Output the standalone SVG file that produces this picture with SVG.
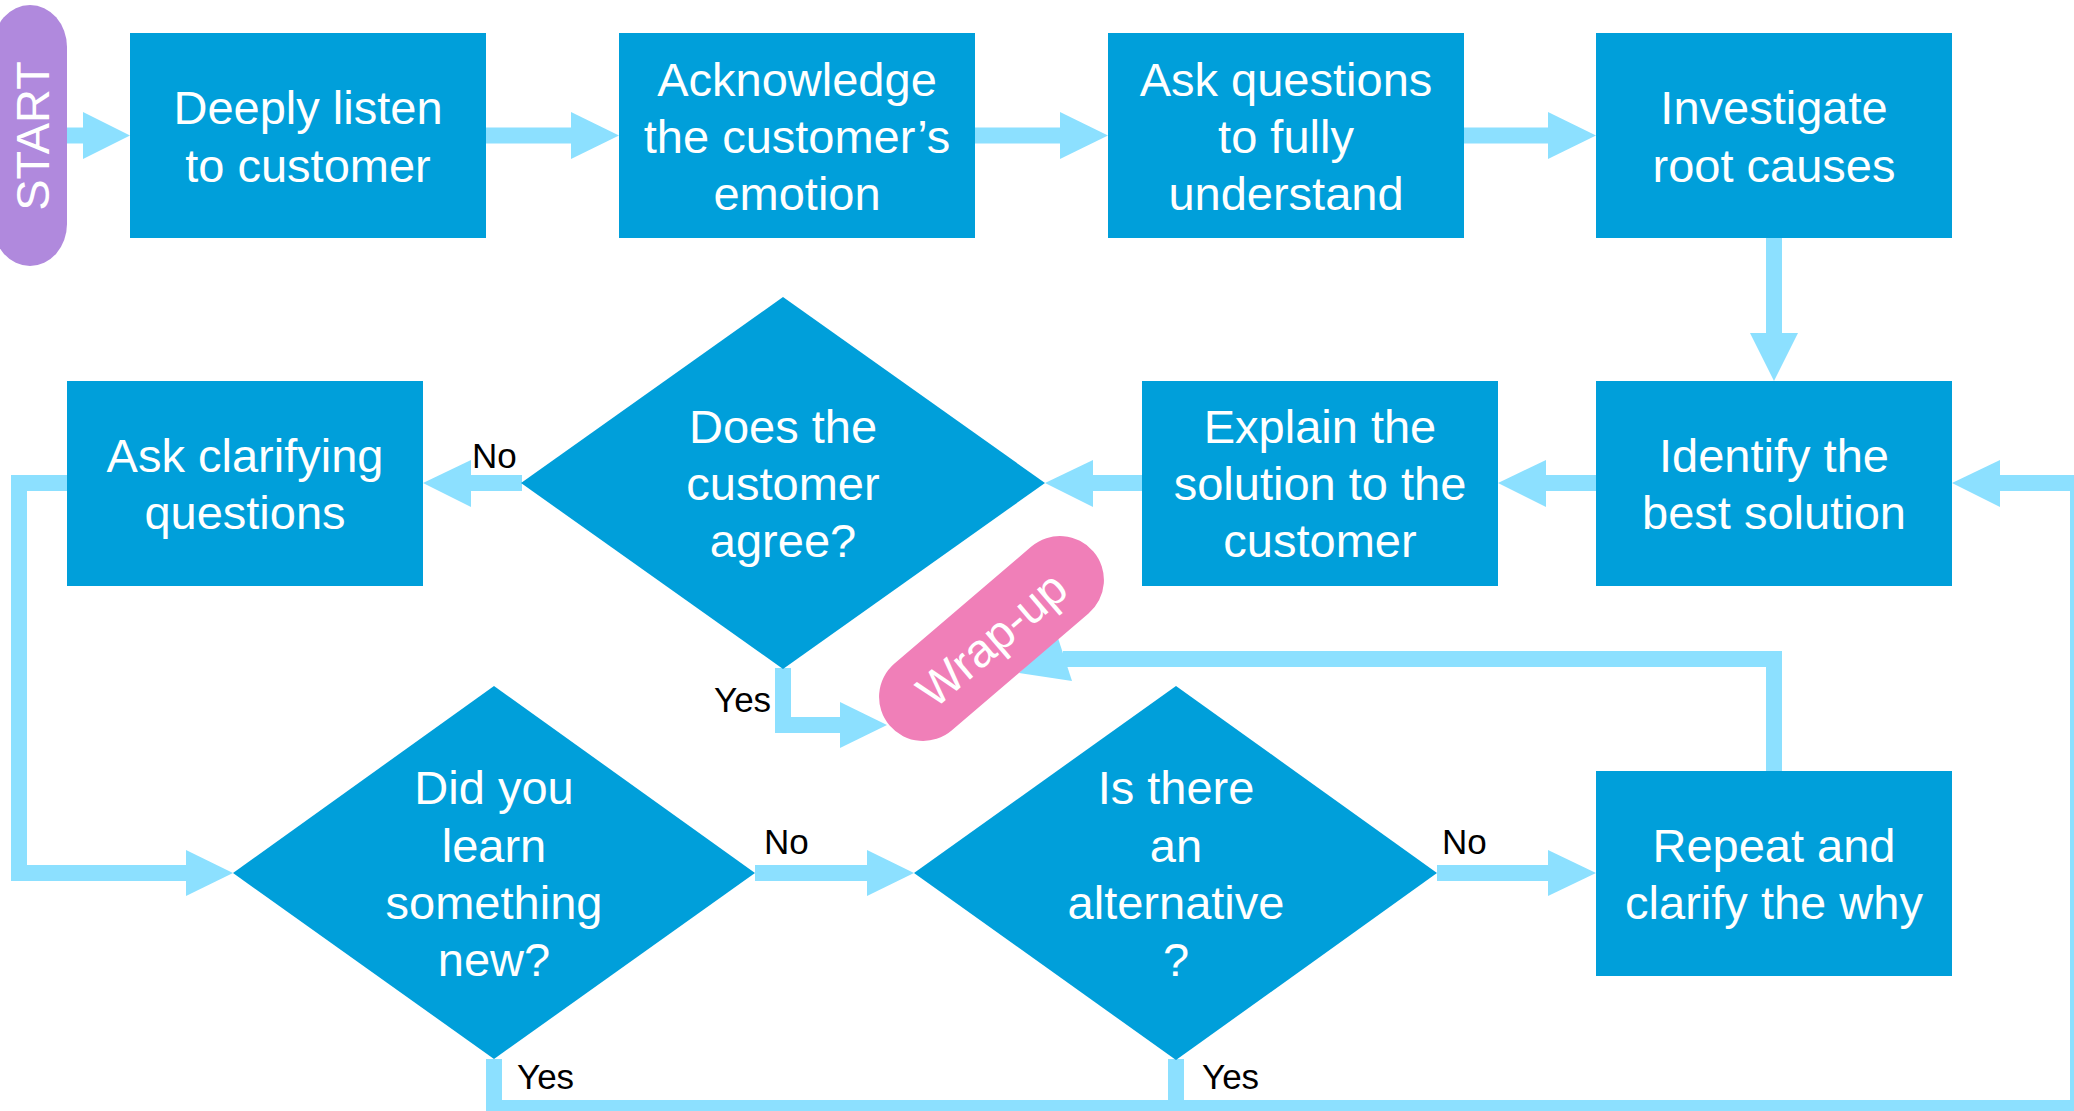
<svg xmlns="http://www.w3.org/2000/svg" width="2074" height="1111" viewBox="0 0 2074 1111">
<style>
.box{fill:#009FDA}
.t{font-family:"Liberation Sans",Arial,sans-serif;font-size:47px;fill:#FFFFFF;text-anchor:middle}
.lbl{font-family:"Liberation Sans",Arial,sans-serif;font-size:35px;fill:#000000}
.line{fill:none;stroke:#8CE0FF;stroke-width:16;stroke-linejoin:miter;stroke-linecap:butt}
.head{fill:#8CE0FF}
</style>
<rect width="2074" height="1111" fill="#FFFFFF"/>
<g id="connectors">
  <!-- START -> box1 -->
  <path class="line" d="M66 135.5H84"/>
  <polygon class="head" points="83,112 130,135.5 83,159"/>
  <!-- row 1 -->
  <path class="line" d="M486 135.5H572"/>
  <polygon class="head" points="571,112 619,135.5 571,159"/>
  <path class="line" d="M975 135.5H1061"/>
  <polygon class="head" points="1060,112 1108,135.5 1060,159"/>
  <path class="line" d="M1464 135.5H1549"/>
  <polygon class="head" points="1548,112 1596,135.5 1548,159"/>
  <!-- down -->
  <path class="line" d="M1774 238V334"/>
  <polygon class="head" points="1750,333 1774,381 1798,333"/>
  <!-- row 2 leftward -->
  <path class="line" d="M1596 483H1545"/>
  <polygon class="head" points="1546,460 1498,483 1546,507"/>
  <path class="line" d="M1142 483H1092"/>
  <polygon class="head" points="1093,460 1045,483 1093,507"/>
  <path class="line" d="M522 483H470"/>
  <polygon class="head" points="471,460 423,483 471,507"/>
  <!-- left loop -->
  <path class="line" d="M67 483H19V873H187"/>
  <polygon class="head" points="186,850 233,873 186,896"/>
  <!-- yes to wrap-up -->
  <path class="line" d="M783 668V725H841"/>
  <polygon class="head" points="840,702 887,725 840,748"/>
  <!-- row 3 -->
  <path class="line" d="M755 873H868"/>
  <polygon class="head" points="867,850 914,873 867,896"/>
  <path class="line" d="M1437 873H1549"/>
  <polygon class="head" points="1548,850 1596,873 1548,896"/>
  <!-- repeat -> wrap-up -->
  <path class="line" d="M1774 771V659H1063"/>
  <polygon class="head" points="1057,635 1072,681 1019,673"/>
  <!-- bottom loop -->
  <path class="line" d="M494 1059V1108H2078V483H1999"/>
  <path class="line" d="M1176 1059V1108"/>
  <polygon class="head" points="2000,460 1952,483 2000,507"/>
</g>
<g id="start">
  <rect x="-7" y="5" width="74" height="261" rx="37" ry="42" fill="#B089DD"/>
  <text class="t" transform="translate(49,136) rotate(-90)" y="0">START</text>
</g>
<g id="n1">
  <rect class="box" x="130" y="33" width="356" height="205"/>
  <text class="t" x="308" y="124">Deeply listen</text>
  <text class="t" x="308" y="182">to customer</text>
</g>
<g id="n2">
  <rect class="box" x="619" y="33" width="356" height="205"/>
  <text class="t" x="797" y="96">Acknowledge</text>
  <text class="t" x="797" y="153">the customer’s</text>
  <text class="t" x="797" y="210">emotion</text>
</g>
<g id="n3">
  <rect class="box" x="1108" y="33" width="356" height="205"/>
  <text class="t" x="1286" y="96">Ask questions</text>
  <text class="t" x="1286" y="153">to fully</text>
  <text class="t" x="1286" y="210">understand</text>
</g>
<g id="n4">
  <rect class="box" x="1596" y="33" width="356" height="205"/>
  <text class="t" x="1774" y="124">Investigate</text>
  <text class="t" x="1774" y="182">root causes</text>
</g>
<g id="n5">
  <rect class="box" x="1596" y="381" width="356" height="205"/>
  <text class="t" x="1774" y="472">Identify the</text>
  <text class="t" x="1774" y="529">best solution</text>
</g>
<g id="n6">
  <rect class="box" x="1142" y="381" width="356" height="205"/>
  <text class="t" x="1320" y="443">Explain the</text>
  <text class="t" x="1320" y="500">solution to the</text>
  <text class="t" x="1320" y="557">customer</text>
</g>
<g id="d1">
  <polygon class="box" points="783,297 1045,483 783,669 521,483"/>
  <text class="t" x="783" y="443">Does the</text>
  <text class="t" x="783" y="500">customer</text>
  <text class="t" x="783" y="557">agree?</text>
</g>
<g id="n7">
  <rect class="box" x="67" y="381" width="356" height="205"/>
  <text class="t" x="245" y="472">Ask clarifying</text>
  <text class="t" x="245" y="529">questions</text>
</g>
<g id="wrapup">
  <g transform="translate(991.5,638.5) rotate(-40.5)">
    <rect x="-134" y="-44" width="268" height="88" rx="44" ry="44" fill="#F07FB8"/>
    <text class="t" x="0" y="17">Wrap-up</text>
  </g>
</g>
<g id="d2">
  <polygon class="box" points="494,686 755,873 494,1059 233,873"/>
  <text class="t" x="494" y="804">Did you</text>
  <text class="t" x="494" y="862">learn</text>
  <text class="t" x="494" y="919">something</text>
  <text class="t" x="494" y="976">new?</text>
</g>
<g id="d3">
  <polygon class="box" points="1176,686 1437,873 1176,1060 914,873"/>
  <text class="t" x="1176" y="804">Is there</text>
  <text class="t" x="1176" y="862">an</text>
  <text class="t" x="1176" y="919">alternative</text>
  <text class="t" x="1176" y="976">?</text>
</g>
<g id="n8">
  <rect class="box" x="1596" y="771" width="356" height="205"/>
  <text class="t" x="1774" y="862">Repeat and</text>
  <text class="t" x="1774" y="919">clarify the why</text>
</g>
<g id="labels">
  <text class="lbl" x="472" y="468">No</text>
  <text class="lbl" x="714" y="712">Yes</text>
  <text class="lbl" x="764" y="854">No</text>
  <text class="lbl" x="1442" y="854">No</text>
  <text class="lbl" x="517" y="1089">Yes</text>
  <text class="lbl" x="1202" y="1089">Yes</text>
</g>
</svg>
